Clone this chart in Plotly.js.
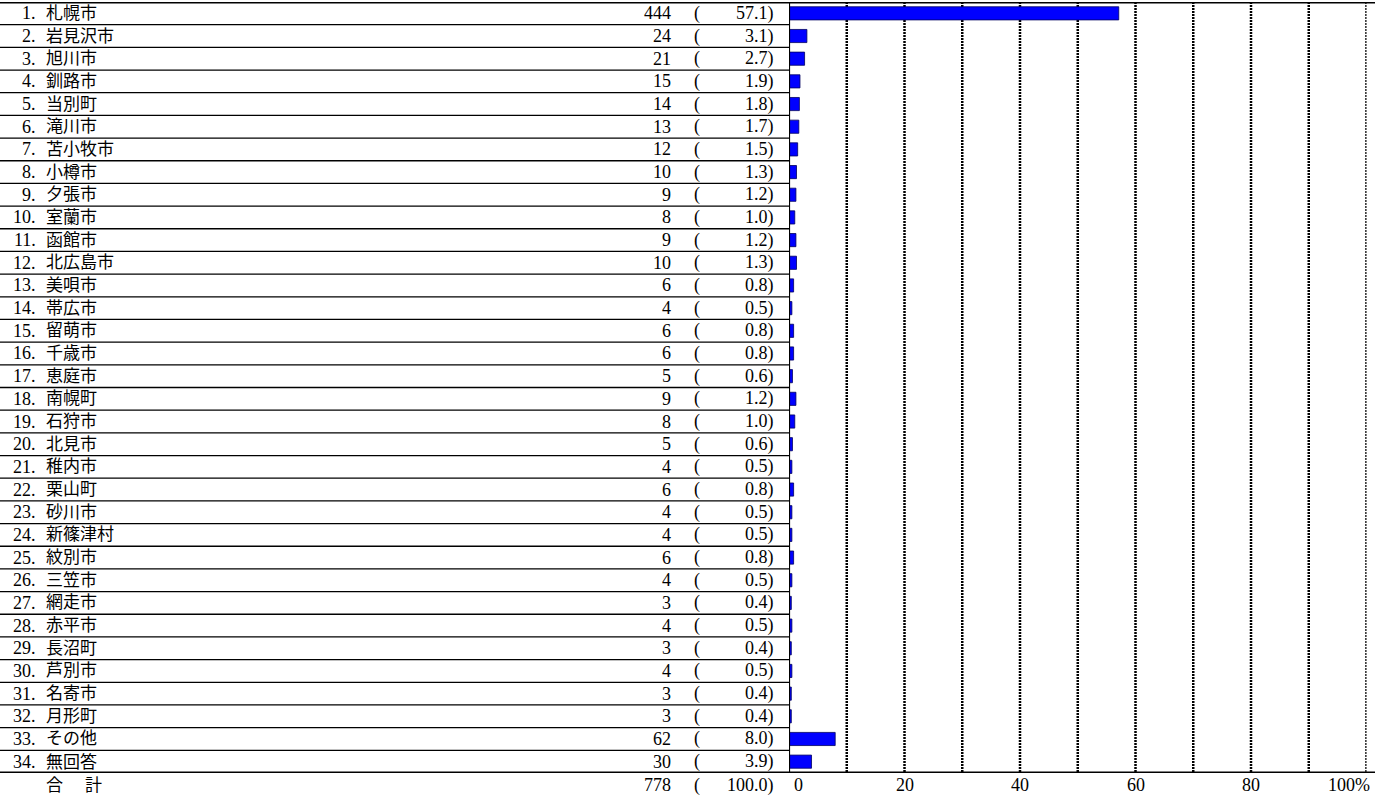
<!DOCTYPE html>
<html><head><meta charset="utf-8">
<script src="https://cdn.plot.ly/plotly-3.0.1.min.js"></script>
<style>html,body{margin:0;padding:0;background:#fff;}#chart{width:1389px;height:796px;}</style>
</head><body><div id="chart"></div>
<script>
const names = ["札幌市","岩見沢市","旭川市","釧路市","当別町","滝川市","苫小牧市","小樽市","夕張市","室蘭市","函館市","北広島市","美唄市","帯広市","留萌市","千歳市","恵庭市","南幌町","石狩市","北見市","稚内市","栗山町","砂川市","新篠津村","紋別市","三笠市","網走市","赤平市","長沼町","芦別市","名寄市","月形町","その他","無回答"];
const counts = [444,24,21,15,14,13,12,10,9,8,9,10,6,4,6,6,5,9,8,5,4,6,4,4,6,4,3,4,3,4,3,3,62,30];
const pcts = [57.1,3.1,2.7,1.9,1.8,1.7,1.5,1.3,1.2,1.0,1.2,1.3,0.8,0.5,0.8,0.8,0.6,1.2,1.0,0.6,0.5,0.8,0.5,0.5,0.8,0.5,0.4,0.5,0.4,0.5,0.4,0.4,8.0,3.9];
const totalLabel = ["合","計"];
const totalCount = 778;
const totalPct = 100.0;
const tickVals = [0,20,40,60,80,100];
const tickText = ["0","20","40","60","80","100%"];
const gridVals = [10,20,30,40,50,60,70,80,90,100];

const W = 1389, H = 796;
const px = v => v / W;
const FONT = "Liberation Serif, 'Noto Sans CJK JP', serif";
const fnt = {family: FONT, size: 17, color: "#000"};
const fntNum = {family: FONT, size: 18, color: "#000"};
const n = names.length;
const rows = names.map((_, i) => i);
const totalY = (H - 785) / H;
const xL = px(789), xR = px(1366.5);
const xData = v => xL + (xR - xL) * v / 100;

const shapes = [];
const annotations = [];
shapes.push({type:"line", xref:"paper", yref:"y", x0:0, x1:px(1375), y0:-0.5, y1:-0.5, line:{color:"#000", width:3}});
shapes.push({type:"line", xref:"paper", yref:"y", x0:0, x1:px(1375), y0:n-0.5, y1:n-0.5, line:{color:"#000", width:3}});
for (let i = 0; i < n - 1; i++) {
  shapes.push({type:"line", xref:"paper", yref:"y", x0:0, x1:px(789), y0:i+0.5, y1:i+0.5, line:{color:"#000", width:1.3}});
}
gridVals.forEach(g => shapes.push({type:"line", xref:"x", yref:"y", x0:g, x1:g, y0:-0.5, y1:n-0.5, layer:"below", line:{color:"#000", width:2.5, dash:"2px,1px"}}));
shapes.push({type:"line", xref:"x", yref:"y", x0:0, x1:0, y0:-0.5, y1:n-0.5, line:{color:"#000", width:2.2}});

names.forEach((nm, i) => {
  annotations.push({xref:"paper", yref:"y", x:px(38), y:i, text:(i+1)+".", xanchor:"right", yanchor:"middle", showarrow:false, font:fntNum});
  annotations.push({xref:"paper", yref:"y", x:px(44), y:i, text:nm, xanchor:"left", yanchor:"middle", showarrow:false, font:fnt});
  annotations.push({xref:"paper", yref:"y", x:px(673), y:i, text:String(counts[i]), xanchor:"right", yanchor:"middle", showarrow:false, font:fntNum});
  annotations.push({xref:"paper", yref:"y", x:px(697), y:i, text:"(", xanchor:"center", yanchor:"middle", showarrow:false, font:fntNum});
  annotations.push({xref:"paper", yref:"y", x:px(776), y:i, text:pcts[i].toFixed(1)+")", xanchor:"right", yanchor:"middle", showarrow:false, font:fntNum});
});
annotations.push({xref:"paper", yref:"paper", x:px(44), y:totalY, text:totalLabel[0], xanchor:"left", yanchor:"middle", showarrow:false, font:fnt});
annotations.push({xref:"paper", yref:"paper", x:px(83), y:totalY, text:totalLabel[1], xanchor:"left", yanchor:"middle", showarrow:false, font:fnt});
annotations.push({xref:"paper", yref:"paper", x:px(673), y:totalY, text:String(totalCount), xanchor:"right", yanchor:"middle", showarrow:false, font:fntNum});
annotations.push({xref:"paper", yref:"paper", x:px(697), y:totalY, text:"(", xanchor:"center", yanchor:"middle", showarrow:false, font:fntNum});
annotations.push({xref:"paper", yref:"paper", x:px(776), y:totalY, text:totalPct.toFixed(1)+")", xanchor:"right", yanchor:"middle", showarrow:false, font:fntNum});
tickVals.forEach((t, k) => {
  let anchor = "center", shift = 0;
  if (t === 0) { anchor = "left"; shift = 3; }
  if (t === 100) { anchor = "right"; shift = 5; }
  annotations.push({xref:"paper", yref:"paper", x:xData(t), y:totalY, text:tickText[k], xanchor:anchor, xshift:shift, yanchor:"middle", showarrow:false, font:fntNum});
});

const trace = {
  type:"bar", orientation:"h", x:pcts, y:rows, width:0.58,
  marker:{color:"#0000FF", line:{color:"#000060", width:0.8}},
  hoverinfo:"skip"
};

const layout = {
  width:W, height:H, margin:{l:0, r:0, t:0, b:0},
  paper_bgcolor:"#fff", plot_bgcolor:"rgba(0,0,0,0)",
  showlegend:false,
  xaxis:{domain:[xL, xR], range:[0,100], showgrid:false, zeroline:false, showticklabels:false, ticks:"", showline:false, fixedrange:true},
  yaxis:{domain:[(H-773)/H, (H-2)/H], range:[n-0.5, -0.5], showgrid:false, zeroline:false, showticklabels:false, ticks:"", showline:false, fixedrange:true},
  shapes:shapes, annotations:annotations, bargap:0
};
Plotly.newPlot("chart", [trace], layout, {displayModeBar:false, staticPlot:true});
</script></body></html>
